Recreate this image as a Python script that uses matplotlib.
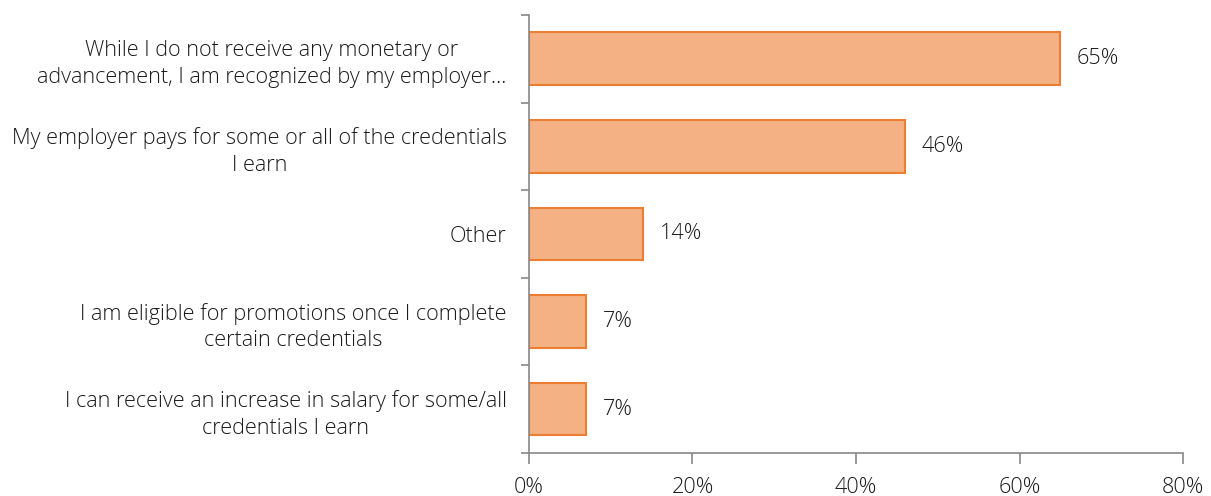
import matplotlib
matplotlib.use("Agg")
import matplotlib.pyplot as plt
from matplotlib.ticker import FixedLocator

categories = [
    "While I do not receive any monetary or\nadvancement, I am recognized by my employer…",
    "My employer pays for some or all of the credentials\nI earn",
    "Other",
    "I am eligible for promotions once I complete\ncertain credentials",
    "I can receive an increase in salary for some/all\ncredentials I earn",
]
values = [65, 46, 14, 7, 7]
xticks = [0, 20, 40, 60, 80]
xtick_labels = ["0%", "20%", "40%", "60%", "80%"]

plt.rcParams['font.family'] = ['Open Sans', 'DejaVu Sans']

fig = plt.figure(figsize=(12.11, 4.96), dpi=100)
ax = fig.add_axes([0.4368, 0.0867, 0.5401, 0.8831])

n = len(categories)
ypos = list(range(n))
ax.barh(ypos, values, height=0.6, color="#F4B183", edgecolor="#ED7D31", linewidth=1.5)
ax.set_ylim(n - 0.5, -0.5)
ax.set_xlim(0, 80)

txt_color = "#1a1a1a"
fs = 15.6

ax.set_yticks(ypos)
ax.set_yticklabels(categories, fontsize=fs, color=txt_color, ha="right",
                   multialignment="center", fontweight="light", linespacing=1.34)
ax.tick_params(axis="y", length=0, pad=16)
ax.yaxis.set_minor_locator(FixedLocator([i - 0.5 for i in range(n + 1)]))
ax.tick_params(axis="y", which="minor", length=6, color="#888888", width=1.2)

ax.set_xticks(xticks)
ax.set_xticklabels(xtick_labels, fontsize=fs, color=txt_color, fontweight="light")
ax.tick_params(axis="x", length=8, color="#888888", width=1.2, pad=9)

for s in ["top", "right"]:
    ax.spines[s].set_visible(False)
for s in ["left", "bottom"]:
    ax.spines[s].set_color("#888888")
    ax.spines[s].set_linewidth(1.2)

for y, v in zip(ypos, values):
    ax.text(v + 2.0, y, f"{v}%", va="center", ha="left", fontsize=fs,
            color=txt_color, fontweight="light")

fig.savefig("out.png", dpi=100)
